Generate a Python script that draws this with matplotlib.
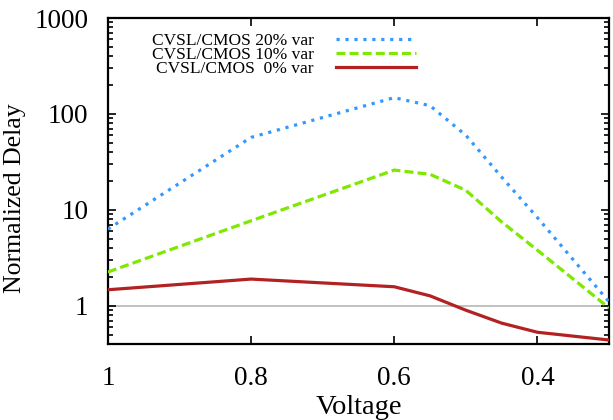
import matplotlib
matplotlib.use("Agg")
import matplotlib.pyplot as plt
from matplotlib.ticker import LogLocator, NullFormatter, FixedLocator

plt.rcParams['font.family'] = ['Liberation Serif', 'DejaVu Serif']

voltage = [1.0, 0.8, 0.6, 0.55, 0.5, 0.45, 0.4, 0.3]
var20 = [6.3, 57, 148, 122, 60, 22, 8.3, 1.1]
var10 = [2.25, 7.7, 26, 23.5, 16, 7.5, 3.8, 0.95]
var0 = [1.47, 1.9, 1.58, 1.27, 0.9, 0.66, 0.53, 0.44]

labels = ['CVSL/CMOS 20% var', 'CVSL/CMOS 10% var', 'CVSL/CMOS  0% var']
xticks = [1.0, 0.8, 0.6, 0.4]
xticklabels = ['1', '0.8', '0.6', '0.4']
yticks = [1, 10, 100, 1000]
yticklabels = ['1', '10', '100', '1000']

fig = plt.figure(figsize=(6.13, 4.2), dpi=100)
ax = fig.add_axes([0.176, 0.181, 0.8175, 0.776])

ax.axhline(1, color='#b8b8b8', lw=1.2, zorder=1)
l1, = ax.plot(voltage, var20, color='#3399ff', lw=2.3, linestyle=(0, (1.0, 1.8)),
              dash_capstyle='butt', zorder=3)
l2, = ax.plot(voltage, var10, color='#7fe800', lw=2.3, linestyle=(0, (2.8, 1.3)),
              dash_capstyle='butt', zorder=3)
l3, = ax.plot(voltage, var0, color='#b22222', lw=2.3, zorder=3)

ax.set_yscale('log')
ax.set_xlim(1.0, 0.3)
ax.set_ylim(0.4, 1000)
ax.xaxis.set_major_locator(FixedLocator(xticks))
ax.set_xticklabels(xticklabels)
ax.yaxis.set_major_locator(FixedLocator(yticks))
ax.set_yticklabels(yticklabels)
ax.yaxis.set_minor_locator(LogLocator(base=10, subs=range(2, 10)))
ax.yaxis.set_minor_formatter(NullFormatter())

ax.tick_params(which='both', direction='in', top=True, right=True, width=1.2, labelsize=19.5)
ax.tick_params(which='major', length=6)
ax.tick_params(which='minor', length=3.5)
ax.tick_params(axis='x', pad=16)
ax.tick_params(axis='y', pad=14)
for s in ax.spines.values():
    s.set_linewidth(1.6)

ax.set_xlabel('Voltage', fontsize=20.5, labelpad=3)
ax.set_ylabel('Normalized Delay', fontsize=18.5)
ax.yaxis.set_label_coords(-0.164, 0.446)

leg = ax.legend([l1, l2, l3], labels, loc='upper left', bbox_to_anchor=(0.088, 0.954),
                frameon=False, fontsize=12.5, markerfirst=False, handlelength=4.6,
                handletextpad=1.3, labelspacing=-0.12, borderaxespad=0, borderpad=0)
for t in leg.get_texts():
    t.set_ha('right')

fig.savefig('out.png', dpi=100)
